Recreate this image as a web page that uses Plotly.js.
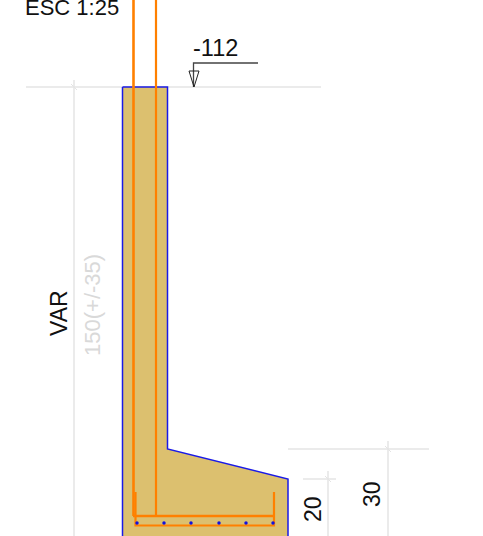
<!DOCTYPE html>
<html>
<head>
<meta charset="utf-8">
<script src="https://cdn.plot.ly/plotly-3.0.1.min.js"></script>
<style>html,body{margin:0;padding:0;background:#fff}</style>
</head>
<body>
<div id="chart" style="width:483px;height:536px"></div>
<script>
// Section outline
const wallX = [122.5,167.5,167.5,288,288,122.5,122.5];
const wallY = [87,87,449,479,540,540,87];
// Dimension lines (light grey)
const dimH1X = [26,321], dimH1Y = [87,87];
const dimV1X = [74,74], dimV1Y = [80,540];
const dimT1X = [71,77], dimT1Y = [84,90];
const dimH2X = [288,429], dimH2Y = [449,449];
const dimV2X = [388,388], dimV2Y = [441,540];
const dimT2X = [385,391], dimT2Y = [446,452];
const dimH3X = [303,336], dimH3Y = [479,479];
const dimV3X = [328,328], dimV3Y = [471,540];
const dimT3X = [325,331], dimT3Y = [476,482];
// Reinforcement (orange)
const barAX = [133.5,133.5], barAY = [-5,516];
const barBX = [156,156], barBY = [-5,516];
const barCX = [133,274], barCY = [516,516];
const barDX = [135.5,135.5,274,274], barDY = [492,525.5,525.5,492];
// Longitudinal bars
const dotX = [137,164,191,219,246,273];
const dotY = [523,523,523,523,523,523];
// Level marker
const levelX = [258,193.5,193.5], levelY = [63,63,87];
const arrowX = [189,199,194,189], arrowY = [71,71,87,71];
// Labels
const labels = ["ESC 1:25","-112","VAR","150(+/-35)","20","30"];
const labelX = [72,215.5,59,92,313,372];
const labelY = [7,48,313,305,509,494];
const labelAngle = [0,0,-90,-90,-90,-90];
const labelSize = [22,23.5,23,22,23,23];
const labelColor = ["#111","#111","#111","#d9d9d9","#111","#111"];

const GREY = "#e4e4e4", ORANGE = "#ff8000", BLUE = "#1a1ae6";
const line = (x,y,color,width) => ({type:"scatter",mode:"lines",x,y,line:{color,width},hoverinfo:"skip",showlegend:false});

const traces = [
  line(dimH1X,dimH1Y,GREY,1.5), line(dimV1X,dimV1Y,GREY,1.5), line(dimT1X,dimT1Y,GREY,1),
  line(dimH2X,dimH2Y,GREY,1.5), line(dimV2X,dimV2Y,GREY,1.5), line(dimT2X,dimT2Y,GREY,1),
  line(dimH3X,dimH3Y,GREY,1.5), line(dimV3X,dimV3Y,GREY,1.5), line(dimT3X,dimT3Y,GREY,1),
  {type:"scatter",mode:"lines",x:wallX,y:wallY,fill:"toself",fillcolor:"#dcc06f",line:{color:BLUE,width:1.5},hoverinfo:"skip",showlegend:false},
  line(barAX,barAY,ORANGE,2.6), line(barBX,barBY,ORANGE,2.2),
  line(barCX,barCY,ORANGE,2.6), line(barDX,barDY,ORANGE,2.2),
  {type:"scatter",mode:"markers",x:dotX,y:dotY,marker:{color:"#1010e0",size:3.5},hoverinfo:"skip",showlegend:false},
  line(levelX,levelY,"#444",1.3), line(arrowX,arrowY,"#222",1)
];

const layout = {
  width:483,height:536,
  margin:{l:0,r:0,t:0,b:0},
  paper_bgcolor:"#fff",plot_bgcolor:"#fff",
  showlegend:false,
  xaxis:{range:[0,483],visible:false,fixedrange:true},
  yaxis:{range:[536,0],visible:false,fixedrange:true},
  annotations:labels.map((t,i)=>({
    text:t,x:labelX[i],y:labelY[i],xref:"x",yref:"y",showarrow:false,
    textangle:labelAngle[i],xanchor:"center",yanchor:"middle",
    font:{family:"Liberation Sans, Arial, sans-serif",size:labelSize[i],color:labelColor[i]}
  }))
};
Plotly.newPlot("chart",traces,layout,{displayModeBar:false,staticPlot:true});
</script>
</body>
</html>
